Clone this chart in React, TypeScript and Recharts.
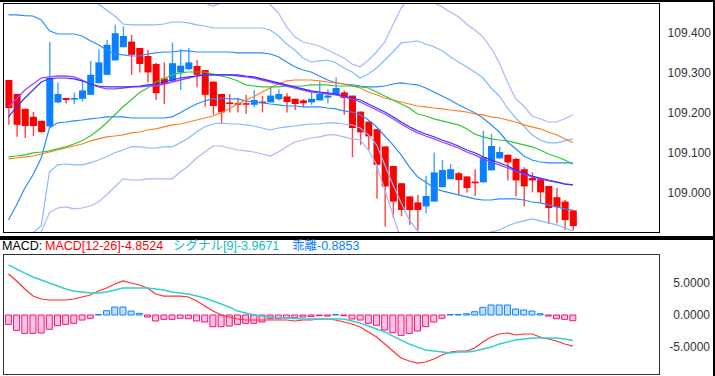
import React from 'react'
import { ComposedChart, Bar, Line, XAxis, YAxis, Cell } from 'recharts'

// ローソク足 (USD/JPY)
const opens = [
  109.283, 109.248, 109.211, 109.191, 109.181, 109.167, 109.227, 109.238, 109.234, 109.236,
  109.246, 109.275, 109.296, 109.332, 109.365, 109.379, 109.363, 109.343, 109.323, 109.287,
  109.28, 109.302, 109.31, 109.318, 109.308, 109.279, 109.248, 109.227, 109.225, 109.225,
  109.221, 109.229, 109.227, 109.235, 109.242, 109.236, 109.232, 109.227, 109.232, 109.239,
  109.246, 109.252, 109.244, 109.204, 109.179, 109.16, 109.117, 109.068, 109.025, 108.992,
  108.977, 108.967, 108.979, 109.015, 109.035, 109.05, 109.042, 109.029, 109.027, 109.057,
  109.087, 109.096, 109.086, 109.06, 109.038, 109.035, 109.018, 108.99, 108.979, 108.957,
]
const highs = [
  109.283, 109.248, 109.211, 109.203, 109.181, 109.378, 109.277, 109.238, 109.252, 109.281,
  109.331, 109.36, 109.383, 109.421, 109.417, 109.396, 109.363, 109.358, 109.326, 109.327,
  109.377, 109.36, 109.363, 109.333, 109.308, 109.279, 109.248, 109.248, 109.238, 109.246,
  109.258, 109.243, 109.265, 109.26, 109.25, 109.236, 109.235, 109.254, 109.278, 109.26,
  109.29, 109.257, 109.244, 109.204, 109.179, 109.16, 109.117, 109.068, 109.025, 108.992,
  108.996, 109.043, 109.102, 109.083, 109.073, 109.053, 109.042, 109.06, 109.156, 109.148,
  109.117, 109.096, 109.088, 109.065, 109.052, 109.038, 109.018, 109.013, 108.983, 108.957,
]
const lows = [
  109.171, 109.141, 109.138, 109.143, 109.151, 109.165, 109.225, 109.224, 109.223, 109.229,
  109.246, 109.275, 109.296, 109.332, 109.365, 109.296, 109.302, 109.277, 109.233, 109.223,
  109.28, 109.258, 109.308, 109.265, 109.217, 109.196, 109.173, 109.202, 109.202, 109.198,
  109.215, 109.202, 109.227, 109.232, 109.202, 109.208, 109.215, 109.221, 109.232, 109.225,
  109.246, 109.196, 109.09, 109.121, 109.108, 108.986, 108.917, 108.938, 108.943, 108.921,
  108.908, 108.95, 108.979, 109.015, 109.035, 108.996, 109.002, 108.993, 109.027, 109.057,
  109.087, 109.032, 108.992, 108.967, 109.002, 108.977, 108.923, 108.925, 108.908, 108.907,
]
const closes = [
  109.213, 109.171, 109.168, 109.168, 109.153, 109.288, 109.248, 109.233, 109.238, 109.257,
  109.296, 109.327, 109.371, 109.4, 109.393, 109.346, 109.323, 109.302, 109.25, 109.273,
  109.325, 109.319, 109.327, 109.296, 109.246, 109.218, 109.202, 109.223, 109.221, 109.222,
  109.233, 109.227, 109.244, 109.248, 109.228, 109.223, 109.225, 109.236, 109.248, 109.244,
  109.263, 109.238, 109.163, 109.152, 109.142, 109.071, 109.017, 108.979, 108.958, 108.958,
  108.958, 108.993, 109.052, 109.058, 109.06, 109.033, 109.013, 109.025, 109.09, 109.118,
  109.103, 109.077, 109.032, 109.017, 109.032, 109.002, 108.963, 108.965, 108.933, 108.918,
]

// ボリンジャーバンド ±1σ/±2σ/±3σ
const bbUp1 = [
  109.446, 109.446, 109.444, 109.443, 109.433, 109.406, 109.398, 109.398, 109.398, 109.393,
  109.381, 109.371, 109.358, 109.348, 109.346, 109.343, 109.343, 109.348, 109.351, 109.353,
  109.353, 109.356, 109.356, 109.353, 109.353, 109.353, 109.353, 109.353, 109.351, 109.351,
  109.351, 109.351, 109.348, 109.341, 109.328, 109.316, 109.308, 109.303, 109.293, 109.283,
  109.276, 109.273, 109.271, 109.268, 109.266, 109.266, 109.268, 109.273, 109.276, 109.273,
  109.271, 109.263, 109.253, 109.243, 109.233, 109.221, 109.211, 109.201, 109.188, 109.171,
  109.153, 109.128, 109.111, 109.093, 109.083, 109.078, 109.076, 109.076, 109.076, 109.076,
]
const bbUp2 = [
  109.508, 109.508, 109.508, 109.508, 109.508, 109.503, 109.503, 109.501, 109.498, 109.493,
  109.483, 109.473, 109.458, 109.443, 109.423, 109.421, 109.421, 109.421, 109.421, 109.423,
  109.428, 109.428, 109.426, 109.421, 109.418, 109.413, 109.413, 109.413, 109.413, 109.413,
  109.413, 109.413, 109.408, 109.393, 109.373, 109.358, 109.338, 109.328, 109.331, 109.333,
  109.326, 109.313, 109.303, 109.288, 109.298, 109.313, 109.333, 109.353, 109.376, 109.378,
  109.381, 109.373, 109.366, 109.356, 109.341, 109.328, 109.316, 109.303, 109.288, 109.263,
  109.243, 109.213, 109.188, 109.168, 109.146, 109.133, 109.126, 109.126, 109.131, 109.136,
]
const bbUp3 = [
  109.52, 109.52, 109.52, 109.52, 109.52, 109.52, 109.52, 109.52, 109.52, 109.52,
  109.52, 109.52, 109.52, 109.52, 109.52, 109.52, 109.52, 109.52, 109.52, 109.52,
  109.52, 109.52, 109.52, 109.496, 109.476, 109.468, 109.476, 109.483, 109.488, 109.488,
  109.488, 109.483, 109.471, 109.451, 109.416, 109.391, 109.378, 109.373, 109.368, 109.358,
  109.348, 109.338, 109.323, 109.316, 109.333, 109.353, 109.378, 109.421, 109.463, 109.488,
  109.496, 109.496, 109.476, 109.466, 109.453, 109.441, 109.423, 109.408, 109.391, 109.363,
  109.326, 109.278, 109.236, 109.218, 109.193, 109.186, 109.178, 109.178, 109.186, 109.196,
]
const bbLo1 = [
  108.933, 108.971, 109.013, 109.046, 109.088, 109.163, 109.176, 109.178, 109.181, 109.183,
  109.186, 109.188, 109.191, 109.191, 109.191, 109.188, 109.188, 109.188, 109.188, 109.188,
  109.191, 109.201, 109.213, 109.223, 109.231, 109.236, 109.238, 109.236, 109.236, 109.231,
  109.228, 109.226, 109.223, 109.221, 109.218, 109.218, 109.216, 109.216, 109.216, 109.213,
  109.211, 109.206, 109.203, 109.196, 109.183, 109.166, 109.143, 109.121, 109.096, 109.066,
  109.041, 109.028, 109.013, 109.006, 109.001, 108.996, 108.991, 108.986, 108.983, 108.983,
  108.986, 108.986, 108.986, 108.983, 108.978, 108.976, 108.971, 108.966, 108.961, 108.958,
]
const bbLo2 = [
  108.871, 108.871, 108.883, 108.901, 108.918, 109.053, 109.071, 109.073, 109.071, 109.071,
  109.076, 109.083, 109.091, 109.101, 109.108, 109.116, 109.116, 109.113, 109.113, 109.116,
  109.116, 109.126, 109.138, 109.153, 109.166, 109.173, 109.176, 109.173, 109.173, 109.171,
  109.168, 109.163, 109.158, 109.163, 109.166, 109.168, 109.171, 109.173, 109.173, 109.176,
  109.176, 109.173, 109.171, 109.163, 109.146, 109.121, 109.071, 109.021, 108.976, 108.933,
  108.906, 108.883, 108.871, 108.863, 108.863, 108.868, 108.878, 108.891, 108.898, 108.903,
  108.908, 108.918, 108.926, 108.931, 108.936, 108.931, 108.926, 108.921, 108.913, 108.906,
]
const bbLo3 = [
  108.858, 108.858, 108.871, 108.883, 108.903, 108.951, 108.963, 108.966, 108.961, 108.963,
  108.968, 108.978, 108.996, 109.016, 109.036, 109.033, 109.033, 109.036, 109.036, 109.036,
  109.036, 109.053, 109.068, 109.088, 109.103, 109.118, 109.118, 109.113, 109.108, 109.106,
  109.103, 109.098, 109.093, 109.103, 109.116, 109.128, 109.133, 109.138, 109.141, 109.146,
  109.146, 109.141, 109.136, 109.133, 109.108, 109.071, 109.008, 108.946, 108.883, 108.833,
  108.81, 108.79, 108.78, 108.77, 108.77, 108.78, 108.79, 108.8, 108.81, 108.82,
  108.83, 108.84, 108.85, 108.85, 108.86, 108.86, 108.86, 108.86, 108.86, 108.87,
]

// 移動平均線
const maPurple = [
  109.216, 109.236, 109.258, 109.273, 109.288, 109.291, 109.293, 109.293, 109.291, 109.283,
  109.273, 109.266, 109.261, 109.261, 109.263, 109.266, 109.266, 109.268, 109.268, 109.273,
  109.278, 109.283, 109.288, 109.293, 109.296, 109.296, 109.296, 109.296, 109.293, 109.291,
  109.288, 109.283, 109.278, 109.273, 109.268, 109.263, 109.258, 109.253, 109.251, 109.248,
  109.246, 109.241, 109.236, 109.228, 109.218, 109.208, 109.198, 109.186, 109.173, 109.161,
  109.151, 109.143, 109.136, 109.128, 109.121, 109.113, 109.103, 109.096, 109.086, 109.078,
  109.071, 109.063, 109.056, 109.048, 109.041, 109.036, 109.031, 109.028, 109.023, 109.021,
]
const maBlue = [
  109.191, 109.216, 109.238, 109.258, 109.278, 109.286, 109.288, 109.288, 109.286, 109.281,
  109.273, 109.268, 109.266, 109.266, 109.266, 109.266, 109.268, 109.271, 109.273, 109.278,
  109.283, 109.288, 109.291, 109.293, 109.296, 109.296, 109.296, 109.296, 109.296, 109.293,
  109.291, 109.286, 109.281, 109.276, 109.271, 109.266, 109.261, 109.256, 109.253, 109.251,
  109.248, 109.243, 109.238, 109.233, 109.223, 109.213, 109.203, 109.191, 109.178, 109.166,
  109.156, 109.148, 109.141, 109.133, 109.126, 109.118, 109.108, 109.101, 109.091, 109.083,
  109.076, 109.068, 109.058, 109.051, 109.043, 109.038, 109.033, 109.028, 109.023, 109.021,
]
const maGreen = [
  109.091, 109.093, 109.096, 109.101, 109.103, 109.106, 109.111, 109.116, 109.123, 109.131,
  109.143, 109.158, 109.176, 109.196, 109.216, 109.233, 109.251, 109.263, 109.278, 109.286,
  109.296, 109.301, 109.303, 109.303, 109.303, 109.298, 109.293, 109.288, 109.281, 109.271,
  109.268, 109.266, 109.266, 109.266, 109.268, 109.268, 109.268, 109.271, 109.271, 109.271,
  109.268, 109.268, 109.268, 109.266, 109.263, 109.253, 109.243, 109.233, 109.223, 109.213,
  109.198, 109.193, 109.186, 109.181, 109.176, 109.171, 109.161, 109.148, 109.141, 109.136,
  109.133, 109.131, 109.126, 109.121, 109.116, 109.108, 109.098, 109.091, 109.083, 109.073,
]
const maOrange = [
  109.086, 109.088, 109.091, 109.093, 109.098, 109.103, 109.108, 109.113, 109.118, 109.123,
  109.131, 109.136, 109.141, 109.143, 109.146, 109.151, 109.153, 109.158, 109.161, 109.166,
  109.171, 109.173, 109.178, 109.183, 109.188, 109.193, 109.201, 109.211, 109.223, 109.233,
  109.241, 109.253, 109.263, 109.273, 109.281, 109.283, 109.283, 109.283, 109.281, 109.278,
  109.276, 109.273, 109.268, 109.263, 109.253, 109.246, 109.238, 109.233, 109.228, 109.223,
  109.218, 109.216, 109.213, 109.211, 109.208, 109.206, 109.203, 109.198, 109.196, 109.191,
  109.188, 109.183, 109.178, 109.171, 109.166, 109.161, 109.153, 109.146, 109.136, 109.126,
]

// MACD
const macdLine = [
  6.38, 5.29, 4.04, 2.95, 2.49, 2.33, 2.33, 2.33, 2.49, 2.8,
  3.11, 3.73, 4.2, 4.82, 5.29, 4.98, 4.67, 4.2, 3.27, 2.95,
  2.95, 2.95, 2.8, 2.18, 1.4, 0.62, 0.0, -0.31, -0.62, -0.78,
  -0.78, -0.78, -0.78, -0.78, -0.78, -0.93, -0.78, -0.78, -0.62, -0.62,
  -0.78, -1.09, -1.4, -1.87, -2.64, -3.42, -4.51, -5.6, -6.69, -7.15,
  -7.47, -7.31, -6.84, -6.22, -5.75, -5.6, -5.6, -5.13, -4.2, -3.42,
  -2.95, -2.8, -3.11, -2.95, -2.95, -3.42, -3.73, -4.04, -4.51, -4.85,
]
const signalLine = [
  7.78, 7.15, 6.53, 5.91, 5.44, 4.98, 4.51, 4.04, 3.73, 3.58,
  3.42, 3.42, 3.58, 3.89, 4.2, 4.2, 4.2, 4.2, 4.04, 3.89,
  3.58, 3.42, 3.27, 2.95, 2.64, 2.18, 1.71, 1.24, 0.62, 0.31,
  0.0, -0.16, -0.31, -0.47, -0.47, -0.54, -0.62, -0.62, -0.62, -0.62,
  -0.62, -0.62, -0.93, -1.24, -1.71, -2.18, -2.64, -3.27, -3.89, -4.51,
  -4.98, -5.44, -5.6, -5.75, -5.91, -5.75, -5.75, -5.6, -5.29, -4.98,
  -4.51, -4.2, -3.89, -3.73, -3.58, -3.58, -3.58, -3.58, -3.73, -3.97,
]
const histogram = [
  -1.45, -2.38, -2.85, -2.85, -2.8, -2.22, -1.66, -1.45, -1.29, -0.78,
  -0.51, 0.08, 0.67, 1.24, 1.24, 0.62, 0.26, -0.31, -0.93, -0.67,
  -0.67, -0.51, -0.58, -0.93, -1.09, -1.82, -1.82, -1.71, -1.45, -1.29,
  -1.29, -1.09, -0.58, -0.58, -0.42, -0.42, -0.31, -0.26, -0.11, -0.16,
  0.08, -0.12, -0.62, -0.78, -1.29, -1.6, -2.33, -2.75, -3.16, -2.85,
  -2.49, -1.82, -1.09, -0.51, 0.08, 0.08, 0.2, 0.51, 1.2, 1.56,
  1.56, 1.56, 0.93, 0.78, 0.62, 0.2, -0.16, -0.58, -0.67, -0.89,
]

const priceTicks = [109.0, 109.1, 109.2, 109.3, 109.4]
const macdTicks = [5, 0, -5]

const priceData = opens.map((open, i) => ({
  i,
  open,
  high: highs[i],
  low: lows[i],
  close: closes[i],
  up3: bbUp3[i],
  up2: bbUp2[i],
  up1: bbUp1[i],
  lo1: bbLo1[i],
  lo2: bbLo2[i],
  lo3: bbLo3[i],
  purple: maPurple[i],
  blue: maBlue[i],
  green: maGreen[i],
  orange: maOrange[i],
}))

const macdData = macdLine.map((macd, i) => ({ i, macd, signal: signalLine[i], hist: histogram[i] }))

const FONT = "'Liberation Sans', Arial, sans-serif"

function Candle(props: any) {
  const { x, y, width, height, payload } = props
  if (x == null || y == null) return null
  const { open, high, low, close } = payload
  const color = close > open ? '#0a80ff' : '#ff0000'
  const range = high - low
  const py = (v: number) => (range > 0 ? y + ((high - v) / range) * height : y)
  const top = py(Math.max(open, close))
  const bottom = py(Math.min(open, close))
  const cx = x + width / 2
  return (
    <g>
      <line x1={cx} x2={cx} y1={y} y2={y + height} stroke={color} strokeWidth={1.4} strokeOpacity={0.75} />
      <rect x={x} y={top} width={width} height={Math.max(bottom - top, 1.5)} fill={color} />
    </g>
  )
}

const PriceTick = (props: any) => (
  <text x={711} y={props.y} dy={4} textAnchor="end" fontSize={12} fill="#333" fontFamily={FONT}>
    {Number(props.payload.value).toFixed(3)}
  </text>
)

const MacdTick = (props: any) => (
  <text x={710} y={props.y} dy={4} textAnchor="end" fontSize={12} fill="#333" fontFamily={FONT}>
    {Number(props.payload.value).toFixed(4)}
  </text>
)

const lineProps = { dot: false, activeDot: false, isAnimationActive: false, type: 'linear' as const }

export default function App() {
  return (
    <div style={{ position: 'relative', width: 715, height: 376, background: '#fff', fontFamily: FONT, overflow: 'hidden' }}>
      <style>{'body{margin:0}'}</style>

      {/* ローソク足チャート */}
      <div style={{ position: 'absolute', left: 0, top: 0 }}>
        <ComposedChart width={715} height={240} data={priceData} margin={{ top: 4, right: 0, bottom: 8, left: 4.4 }}>
          <XAxis dataKey="i" hide />
          <YAxis
            orientation="right"
            width={138}
            domain={[108.903, 109.473]}
            allowDataOverflow
            ticks={priceTicks}
            tick={<PriceTick />}
            axisLine={false}
            tickLine={false}
          />
          <Bar dataKey={(d: any) => [d.low, d.high]} barSize={7} shape={(p: any) => <Candle {...p} />} isAnimationActive={false} />
          <Line dataKey="up3" stroke="#aab6ff" strokeWidth={1.2} {...lineProps} />
          <Line dataKey="lo3" stroke="#aab6ff" strokeWidth={1.2} {...lineProps} />
          <Line dataKey="up2" stroke="#80bcff" strokeWidth={1.2} {...lineProps} />
          <Line dataKey="lo2" stroke="#80bcff" strokeWidth={1.2} {...lineProps} />
          <Line dataKey="up1" stroke="#2a8cff" strokeWidth={1.2} {...lineProps} />
          <Line dataKey="lo1" stroke="#2a8cff" strokeWidth={1.2} {...lineProps} />
          <Line dataKey="orange" stroke="#ff7f24" strokeWidth={1.2} {...lineProps} />
          <Line dataKey="green" stroke="#30c830" strokeWidth={1.2} {...lineProps} />
          <Line dataKey="purple" stroke="#a040ff" strokeWidth={1.3} {...lineProps} />
          <Line dataKey="blue" stroke="#3030ff" strokeWidth={1.2} {...lineProps} />
        </ComposedChart>
      </div>

      {/* MACD */}
      <div style={{ position: 'absolute', left: 0, top: 240 }}>
        <ComposedChart width={715} height={136} data={macdData} margin={{ top: 14.3, right: 0, bottom: 1.7, left: 4.4 }}>
          <XAxis dataKey="i" hide />
          <YAxis
            orientation="right"
            width={138}
            domain={[-9.22, 9.44]}
            allowDataOverflow
            ticks={macdTicks}
            tick={<MacdTick />}
            axisLine={false}
            tickLine={false}
          />
          <Bar dataKey="hist" barSize={6} strokeWidth={1} isAnimationActive={false}>
            {macdData.map((d) => (
              <Cell key={d.i} fill={d.hist >= 0 ? '#c4e0f4' : '#ffc4e4'} stroke={d.hist >= 0 ? '#0a80ff' : '#f0107a'} />
            ))}
          </Bar>
          <Line dataKey="macd" stroke="#ff3030" strokeWidth={1.2} {...lineProps} />
          <Line dataKey="signal" stroke="#30d0d0" strokeWidth={1.4} {...lineProps} />
        </ComposedChart>
      </div>

      {/* 枠 */}
      <div style={{ position: 'absolute', left: 0, top: 0, width: 715, height: 2, background: '#000' }} />
      <div style={{ position: 'absolute', left: 713, top: 0, width: 2, height: 376, background: '#000' }} />
      <div style={{ position: 'absolute', left: 0, top: 236, width: 715, height: 4, background: '#000' }} />
      <div style={{ position: 'absolute', left: 3, top: 3, width: 655, height: 228, border: '1px solid #000' }} />
      <div style={{ position: 'absolute', left: 3, top: 254, width: 655, height: 119, border: '1px solid #333' }} />

      {/* MACD タイトル */}
      <div style={{ position: 'absolute', left: 0, top: 239, height: 14, fontSize: 12.5, lineHeight: '14px', whiteSpace: 'nowrap' }}>
        <span style={{ position: 'absolute', left: 2, color: '#000' }}>MACD:</span>
        <span style={{ position: 'absolute', left: 45, color: '#ff0000' }}>MACD[12-26]-4.8524</span>
        <span style={{ position: 'absolute', left: 173, color: '#10c0c0', fontFamily: "'Liberation Sans', 'Noto Sans CJK JP', sans-serif" }}>シグナル[9]-3.9671</span>
        <span style={{ position: 'absolute', left: 292, color: '#0a80ff', fontFamily: "'Liberation Sans', 'Noto Sans CJK JP', sans-serif" }}>乖離-0.8853</span>
      </div>
    </div>
  )
}
